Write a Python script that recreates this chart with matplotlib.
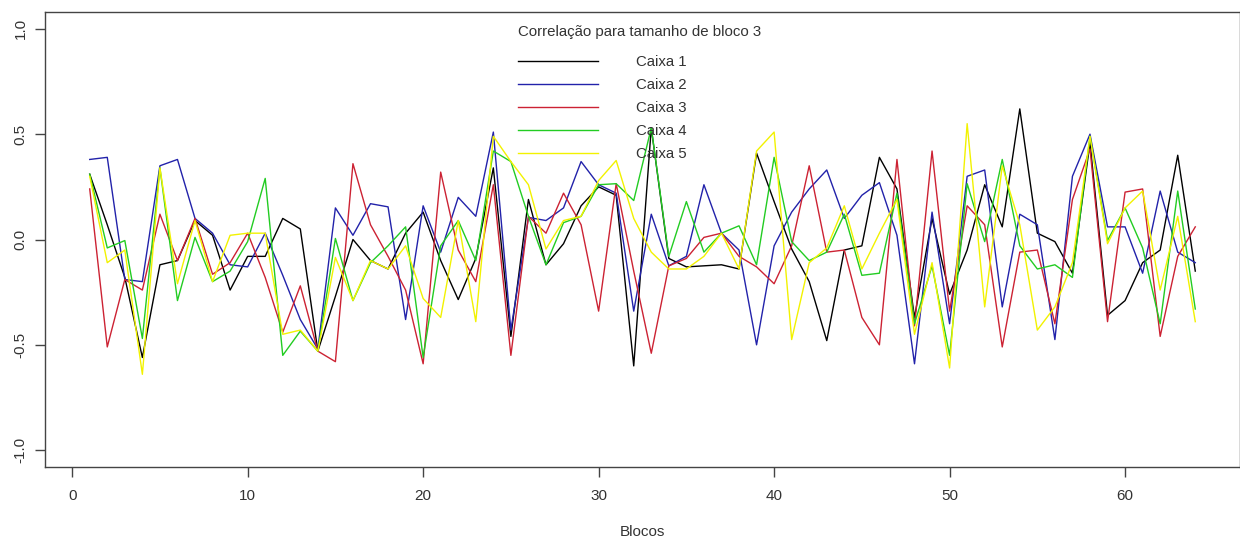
import matplotlib
matplotlib.use("Agg")
import matplotlib.pyplot as plt
import numpy as np

plt.rcParams['font.family'] = ['Liberation Sans', 'DejaVu Sans']

blocos = list(range(1, 65))

caixa1 = [0.31, 0.07, -0.18, -0.56, -0.12, -0.10, 0.09, 0.02, -0.24, -0.08,
          -0.08, 0.10, 0.05, -0.53, -0.27, 0.00, -0.10, -0.14, 0.03, 0.13,
          -0.10, -0.285, -0.09, 0.34, -0.46, 0.19, -0.12, -0.02, 0.16, 0.25,
          0.21, -0.60, 0.53, -0.09, -0.13, -0.125, -0.12, -0.14, 0.41, 0.18,
          -0.045, -0.20, -0.48, -0.05, -0.03, 0.39, 0.24, -0.37, 0.10, -0.26,
          -0.05, 0.26, 0.06, 0.62, 0.03, -0.01, -0.16, 0.46, -0.36, -0.29,
          -0.11, -0.05, 0.40, -0.15]

caixa2 = [0.38, 0.39, -0.19, -0.20, 0.35, 0.38, 0.10, 0.03, -0.12, -0.13,
          0.03, -0.17, -0.38, -0.52, 0.15, 0.02, 0.17, 0.155, -0.38, 0.16,
          -0.06, 0.20, 0.11, 0.51, -0.43, 0.105, 0.09, 0.15, 0.37, 0.26,
          0.22, -0.34, 0.12, -0.125, -0.08, 0.26, 0.03, -0.05, -0.50, -0.03,
          0.13, 0.24, 0.33, 0.10, 0.21, 0.27, 0.02, -0.59, 0.13, -0.40,
          0.30, 0.33, -0.32, 0.12, 0.07, -0.475, 0.30, 0.50, 0.06, 0.06,
          -0.16, 0.23, -0.06, -0.11]

caixa3 = [0.24, -0.51, -0.19, -0.24, 0.12, -0.10, 0.10, -0.165, -0.11, 0.03,
          -0.18, -0.44, -0.22, -0.53, -0.58, 0.36, 0.07, -0.08, -0.24, -0.59,
          0.32, -0.05, -0.20, 0.26, -0.55, 0.11, 0.03, 0.22, 0.07, -0.34,
          0.265, -0.15, -0.54, -0.125, -0.09, 0.01, 0.03, -0.08, -0.13, -0.21,
          -0.03, 0.35, -0.06, -0.05, -0.37, -0.50, 0.38, -0.41, 0.42, -0.34,
          0.16, 0.07, -0.51, -0.06, -0.05, -0.40, 0.19, 0.43, -0.39, 0.225,
          0.24, -0.46, -0.08, 0.06]

caixa4 = [0.31, -0.04, -0.005, -0.47, 0.34, -0.29, 0.01, -0.20, -0.15, -0.01,
          0.29, -0.55, -0.435, -0.53, 0.005, -0.29, -0.11, -0.03, 0.06, -0.56,
          -0.03, 0.09, -0.10, 0.42, 0.37, 0.11, -0.12, 0.08, 0.11, 0.26,
          0.265, 0.185, 0.53, -0.08, 0.18, -0.06, 0.03, 0.065, -0.12, 0.39,
          -0.01, -0.10, -0.06, 0.12, -0.17, -0.16, 0.22, -0.40, -0.125, -0.55,
          0.265, -0.01, 0.38, -0.03, -0.14, -0.12, -0.18, 0.49, -0.005, 0.15,
          -0.04, -0.40, 0.23, -0.33]

caixa5 = [0.30, -0.11, -0.05, -0.64, 0.34, -0.21, 0.09, -0.20, 0.02, 0.03,
          0.03, -0.45, -0.43, -0.53, -0.085, -0.29, -0.10, -0.14, -0.03, -0.28,
          -0.37, 0.09, -0.39, 0.49, 0.37, 0.26, -0.045, 0.09, 0.11, 0.28,
          0.375, 0.10, -0.06, -0.14, -0.14, -0.08, 0.03, -0.14, 0.42, 0.51,
          -0.475, -0.11, -0.04, 0.16, -0.14, 0.03, 0.19, -0.45, -0.11, -0.61,
          0.55, -0.32, 0.35, 0.07, -0.43, -0.32, -0.11, 0.49, -0.02, 0.15,
          0.23, -0.24, 0.11, -0.39]

series_labels = ["Caixa 1", "Caixa 2", "Caixa 3", "Caixa 4", "Caixa 5"]
series_colors = ["#000000", "#2222aa", "#cc2233", "#22cc22", "#f2f200"]
legend_title = "Correlação para tamanho de bloco 3"
x_label = "Blocos"
x_ticks = [0, 10, 20, 30, 40, 50, 60]
y_ticks = [-1.0, -0.5, 0.0, 0.5, 1.0]

W, H = 1240, 541
fig = plt.figure(figsize=(W / 100, H / 100), dpi=100)
left, right, bottom, top = 45.5, 1239.5, 467, 12
ax = fig.add_axes([left / W, 1 - bottom / H, (right - left) / W, (bottom - top) / H])

for vals, lab, col in zip([caixa1, caixa2, caixa3, caixa4, caixa5], series_labels, series_colors):
    ax.plot(blocos, vals, color=col, lw=1.0, label=lab)

ax.set_xlim(1 - 0.04 * 63, 64 + 0.04 * 63)
ax.set_ylim(-1.08, 1.08)
ax.set_xticks(x_ticks)
ax.set_xticklabels([str(t) for t in x_ticks])
ax.set_yticks(y_ticks)
ax.set_yticklabels([f"{t:.1f}" for t in y_ticks], rotation=90, va='center')

for s in ax.spines.values():
    s.set_color('#444444')
    s.set_linewidth(1.0)
ax.tick_params(axis='both', direction='out', length=7, width=1.0, color='#444444',
               labelsize=11, labelcolor='#333333')
ax.tick_params(axis='x', pad=9)
ax.tick_params(axis='y', pad=6)

ax.set_xlabel(x_label, fontsize=11, color='#333333', labelpad=16)

fs = 10.8
leg = ax.legend(loc='upper left', bbox_to_anchor=(518 / W, 1 - 25 / H),
                bbox_transform=fig.transFigure, frameon=False, title=legend_title,
                alignment='left', fontsize=fs, title_fontsize=fs,
                handlelength=5.3, handletextpad=2.6, labelspacing=0.6,
                borderpad=0, borderaxespad=0)
leg._legend_box.sep = 11.5
for t in leg.get_texts():
    t.set_color('#333333')
leg.get_title().set_color('#333333')

fig.savefig("out.png", dpi=100)
